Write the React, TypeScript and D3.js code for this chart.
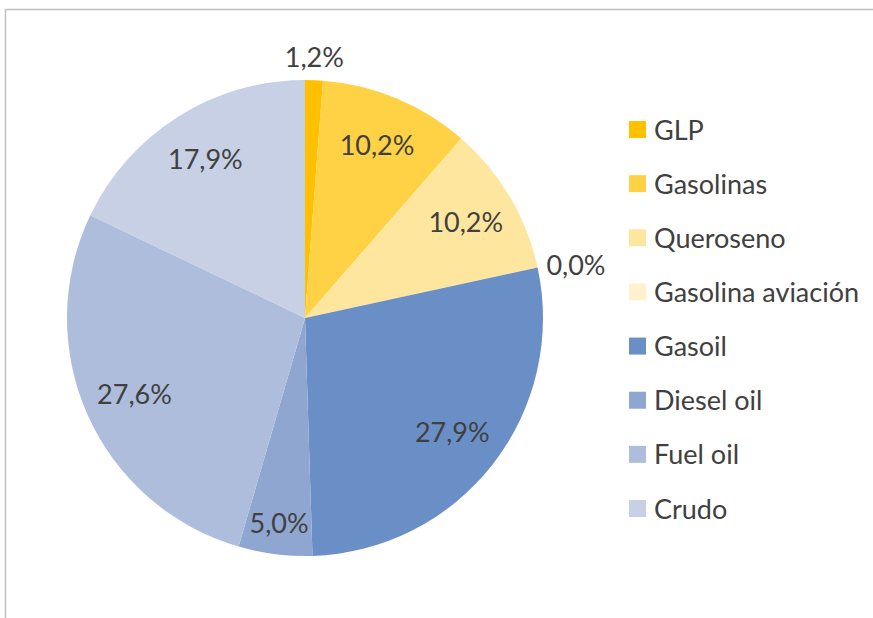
import React from "react";
import * as d3 from "d3";

const categories = ["GLP", "Gasolinas", "Queroseno", "Gasolina aviación", "Gasoil", "Diesel oil", "Fuel oil", "Crudo"];
const values = [1.2, 10.2, 10.2, 0.0, 27.9, 5.0, 27.6, 17.9];
const colors = ["#FFC000", "#FFD145", "#FFE69E", "#FFF2CC", "#6A8FC6", "#8FA7D0", "#ADBDDB", "#C7D0E4"];

const W = 873;
const H = 618;
const FONT = "Lato, 'Open Sans', sans-serif";
const TEXT = "#404040";
const FS = 27;

export default function App() {
  const cx = 305;
  const cy = 318;
  const r = 238;
  const pie = d3.pie<number>().value((d) => d).sort(null).startAngle(0).endAngle(2 * Math.PI);
  const arcs = pie(values);
  const arc = d3.arc<d3.PieArcDatum<number>>().innerRadius(0).outerRadius(r);
  const fmt = (v: number) => v.toFixed(1).replace(".", ",") + "%";

  const legendY = d3.scaleLinear().domain([0, categories.length - 1]).range([129.5, 508.5]);

  return (
    <svg width={W} height={H} style={{ position: "absolute", left: 0, top: 0, background: "#fff" }} fontFamily={FONT}>
      <rect x={5.5} y={9.5} width={W + 20} height={H + 20} fill="#fff" stroke="#bfbfbf" strokeWidth={1.5} />
      <g transform={`translate(${cx},${cy})`}>
        {arcs.map((a, i) => (
          <path key={i} d={arc(a) || ""} fill={colors[i]} />
        ))}
        {arcs.map((a, i) => {
          const mid = (a.startAngle + a.endAngle) / 2;
          const s = Math.sin(mid);
          const c = -Math.cos(mid);
          if (a.value < 2) {
            const rr = r + 9;
            const x = rr * s;
            const y = rr * c;
            const anchor = s > 0.5 ? "start" : s < -0.5 ? "end" : "middle";
            const dy = c < -0.5 ? "-0.15em" : c > 0.5 ? "0.9em" : "0.35em";
            return (
              <text key={i} x={x} y={y} dy={dy} textAnchor={anchor} fontSize={FS} fill={TEXT}>
                {fmt(a.value)}
              </text>
            );
          }
          const rr = a.value < 8 ? r * 0.87 : r * 0.785;
          return (
            <text key={i} x={rr * s} y={rr * c} dy="0.35em" textAnchor="middle" fontSize={FS} fill={TEXT}>
              {fmt(a.value)}
            </text>
          );
        })}
      </g>
      <g>
        {categories.map((name, i) => (
          <g key={name} transform={`translate(629,${legendY(i)})`}>
            <rect x={0} y={-8.5} width={17} height={17} fill={colors[i]} />
            <text x={25} y={0} dy="0.37em" fontSize={FS} fill={TEXT}>
              {name}
            </text>
          </g>
        ))}
      </g>
    </svg>
  );
}
